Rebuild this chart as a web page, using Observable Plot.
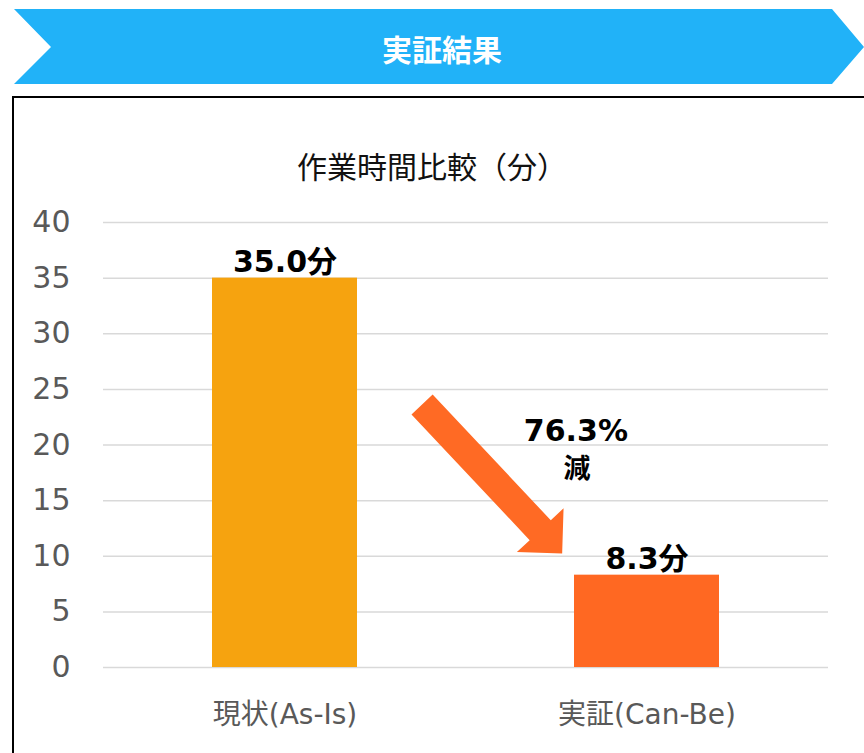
<!DOCTYPE html>
<html>
<head>
<meta charset="utf-8">
<script src="https://cdn.jsdelivr.net/npm/d3@7"></script>
<script src="https://cdn.jsdelivr.net/npm/@observablehq/plot@0.6"></script>
<style>
html, body { margin: 0; padding: 0; background: #fff; }
#page { position: relative; width: 864px; height: 753px; overflow: hidden; font-family: "DejaVu Sans", "Noto Sans CJK JP", sans-serif; }
#banner { position: absolute; left: 0; top: 0; }
#box { position: absolute; left: 12px; top: 96px; width: 900px; height: 720px; border-top: 2px solid #000; border-left: 2px solid #000; box-sizing: border-box; }
#title { position: absolute; left: 0; width: 864px; top: 145px; text-align: center; font-size: 30px; line-height: 40px; font-family: "Noto Sans CJK JP", sans-serif; color: #111; }
#chart { position: absolute; left: 0; top: 190px; }
</style>
</head>
<body>
<div id="page">
  <svg id="banner" width="864" height="92">
    <polygon points="14,9 832,9 864,47 832,84 14,84 51,47" fill="#21B2F8"></polygon>
    <text x="442" y="48" text-anchor="middle" dominant-baseline="central" fill="#fff" font-size="30" font-weight="bold" font-family="Noto Sans CJK JP, sans-serif">実証結果</text>
  </svg>
  <div id="box"></div>
  <div id="title">作業時間比較（分）</div>
  <div id="chart"></div>
</div>
<script>
// ---- data ----
const categories = ["現状(As-Is)", "実証(Can-Be)"];
const minutes = [35.0, 8.3];
const yTicks = [0, 5, 10, 15, 20, 25, 30, 35, 40];
const unit = "分";
const reductionText = "76.3%";
const reductionWord = "減";

// ---- styles / annotation placement ----
const barColors = ["#F6A30F", "#FF6822"];
const arrowColor = "#FF6A24";
// annotation placement: t = fraction between the two category centres, v = value on y scale
const arrowFrom = {t: 0.38, v: 23.6};
const arrowTo = {t: 0.767, v: 10.2};
const pctPos = {t: 0.805, v: 20.3};
const wordPos = {t: 0.808, v: 17.0};

const data = categories.map((c, i) => ({cat: c, value: minutes[i]}));

function annotation(index, scales) {
  const x = scales.x, y = scales.y;
  const bw = x.bandwidth ? x.bandwidth() : 0;
  const c0 = x(categories[0]) + bw / 2, c1 = x(categories[1]) + bw / 2;
  const px = t => c0 + t * (c1 - c0);
  const S = [px(arrowFrom.t), y(arrowFrom.v)];
  const T = [px(arrowTo.t), y(arrowTo.v)];
  const dx = T[0] - S[0], dy = T[1] - S[1];
  const len = Math.hypot(dx, dy);
  const u = [dx / len, dy / len], n = [-u[1], u[0]];
  const headLen = 32, headHalf = 32, shaftHalf = 14.5;
  const B = [T[0] - u[0] * headLen, T[1] - u[1] * headLen];
  const P = (p, k) => [p[0] + n[0] * k, p[1] + n[1] * k];
  const pts = [P(S, shaftHalf), P(B, shaftHalf), P(B, headHalf), T, P(B, -headHalf), P(B, -shaftHalf), P(S, -shaftHalf)];
  const g = d3.create("svg:g");
  g.append("polygon").attr("points", pts.map(p => p.join(",")).join(" ")).attr("fill", arrowColor);
  g.append("text").attr("x", px(pctPos.t)).attr("y", y(pctPos.v))
    .attr("text-anchor", "middle").attr("font-size", 30).attr("font-weight", "bold")
    .attr("fill", "#000").text(reductionText);
  g.append("text").attr("x", px(wordPos.t)).attr("y", y(wordPos.v))
    .attr("text-anchor", "middle").attr("font-size", 27).attr("font-weight", "bold")
    .attr("font-family", "Noto Sans CJK JP, sans-serif")
    .attr("fill", "#000").text(reductionWord);
  return g.node();
}

const chart = Plot.plot({
  width: 864,
  height: 560,
  marginTop: 32,
  marginBottom: 83,
  marginLeft: 103,
  marginRight: 36,
  style: {background: "none", fontFamily: "DejaVu Sans, Noto Sans CJK JP, sans-serif", fontSize: "30px", overflow: "visible"},
  x: {domain: categories, paddingInner: 0.6, paddingOuter: 0.3, label: null},
  y: {domain: [0, 40], label: null},
  color: {domain: categories, range: barColors},
  marks: [
    Plot.gridY(yTicks, {stroke: "#D9D9D9", strokeOpacity: 1, strokeWidth: 1.5}),
    Plot.barY(data, {x: "cat", y: "value", fill: "cat"}),
    Plot.text(data, {x: "cat", y: "value", text: d => d.value.toFixed(1) + unit, lineAnchor: "bottom", dy: -6, fontSize: 30, fontWeight: "bold", fill: "#000"}),
    Plot.axisY({ticks: yTicks, tickSize: 0, tickPadding: 33, fontSize: 30, fill: "#595959", label: null}),
    Plot.axisX({tickSize: 0, tickPadding: 37, fontSize: 28, fill: "#595959", label: null}),
    annotation
  ]
});
document.getElementById("chart").appendChild(chart);
</script>
</body>
</html>
